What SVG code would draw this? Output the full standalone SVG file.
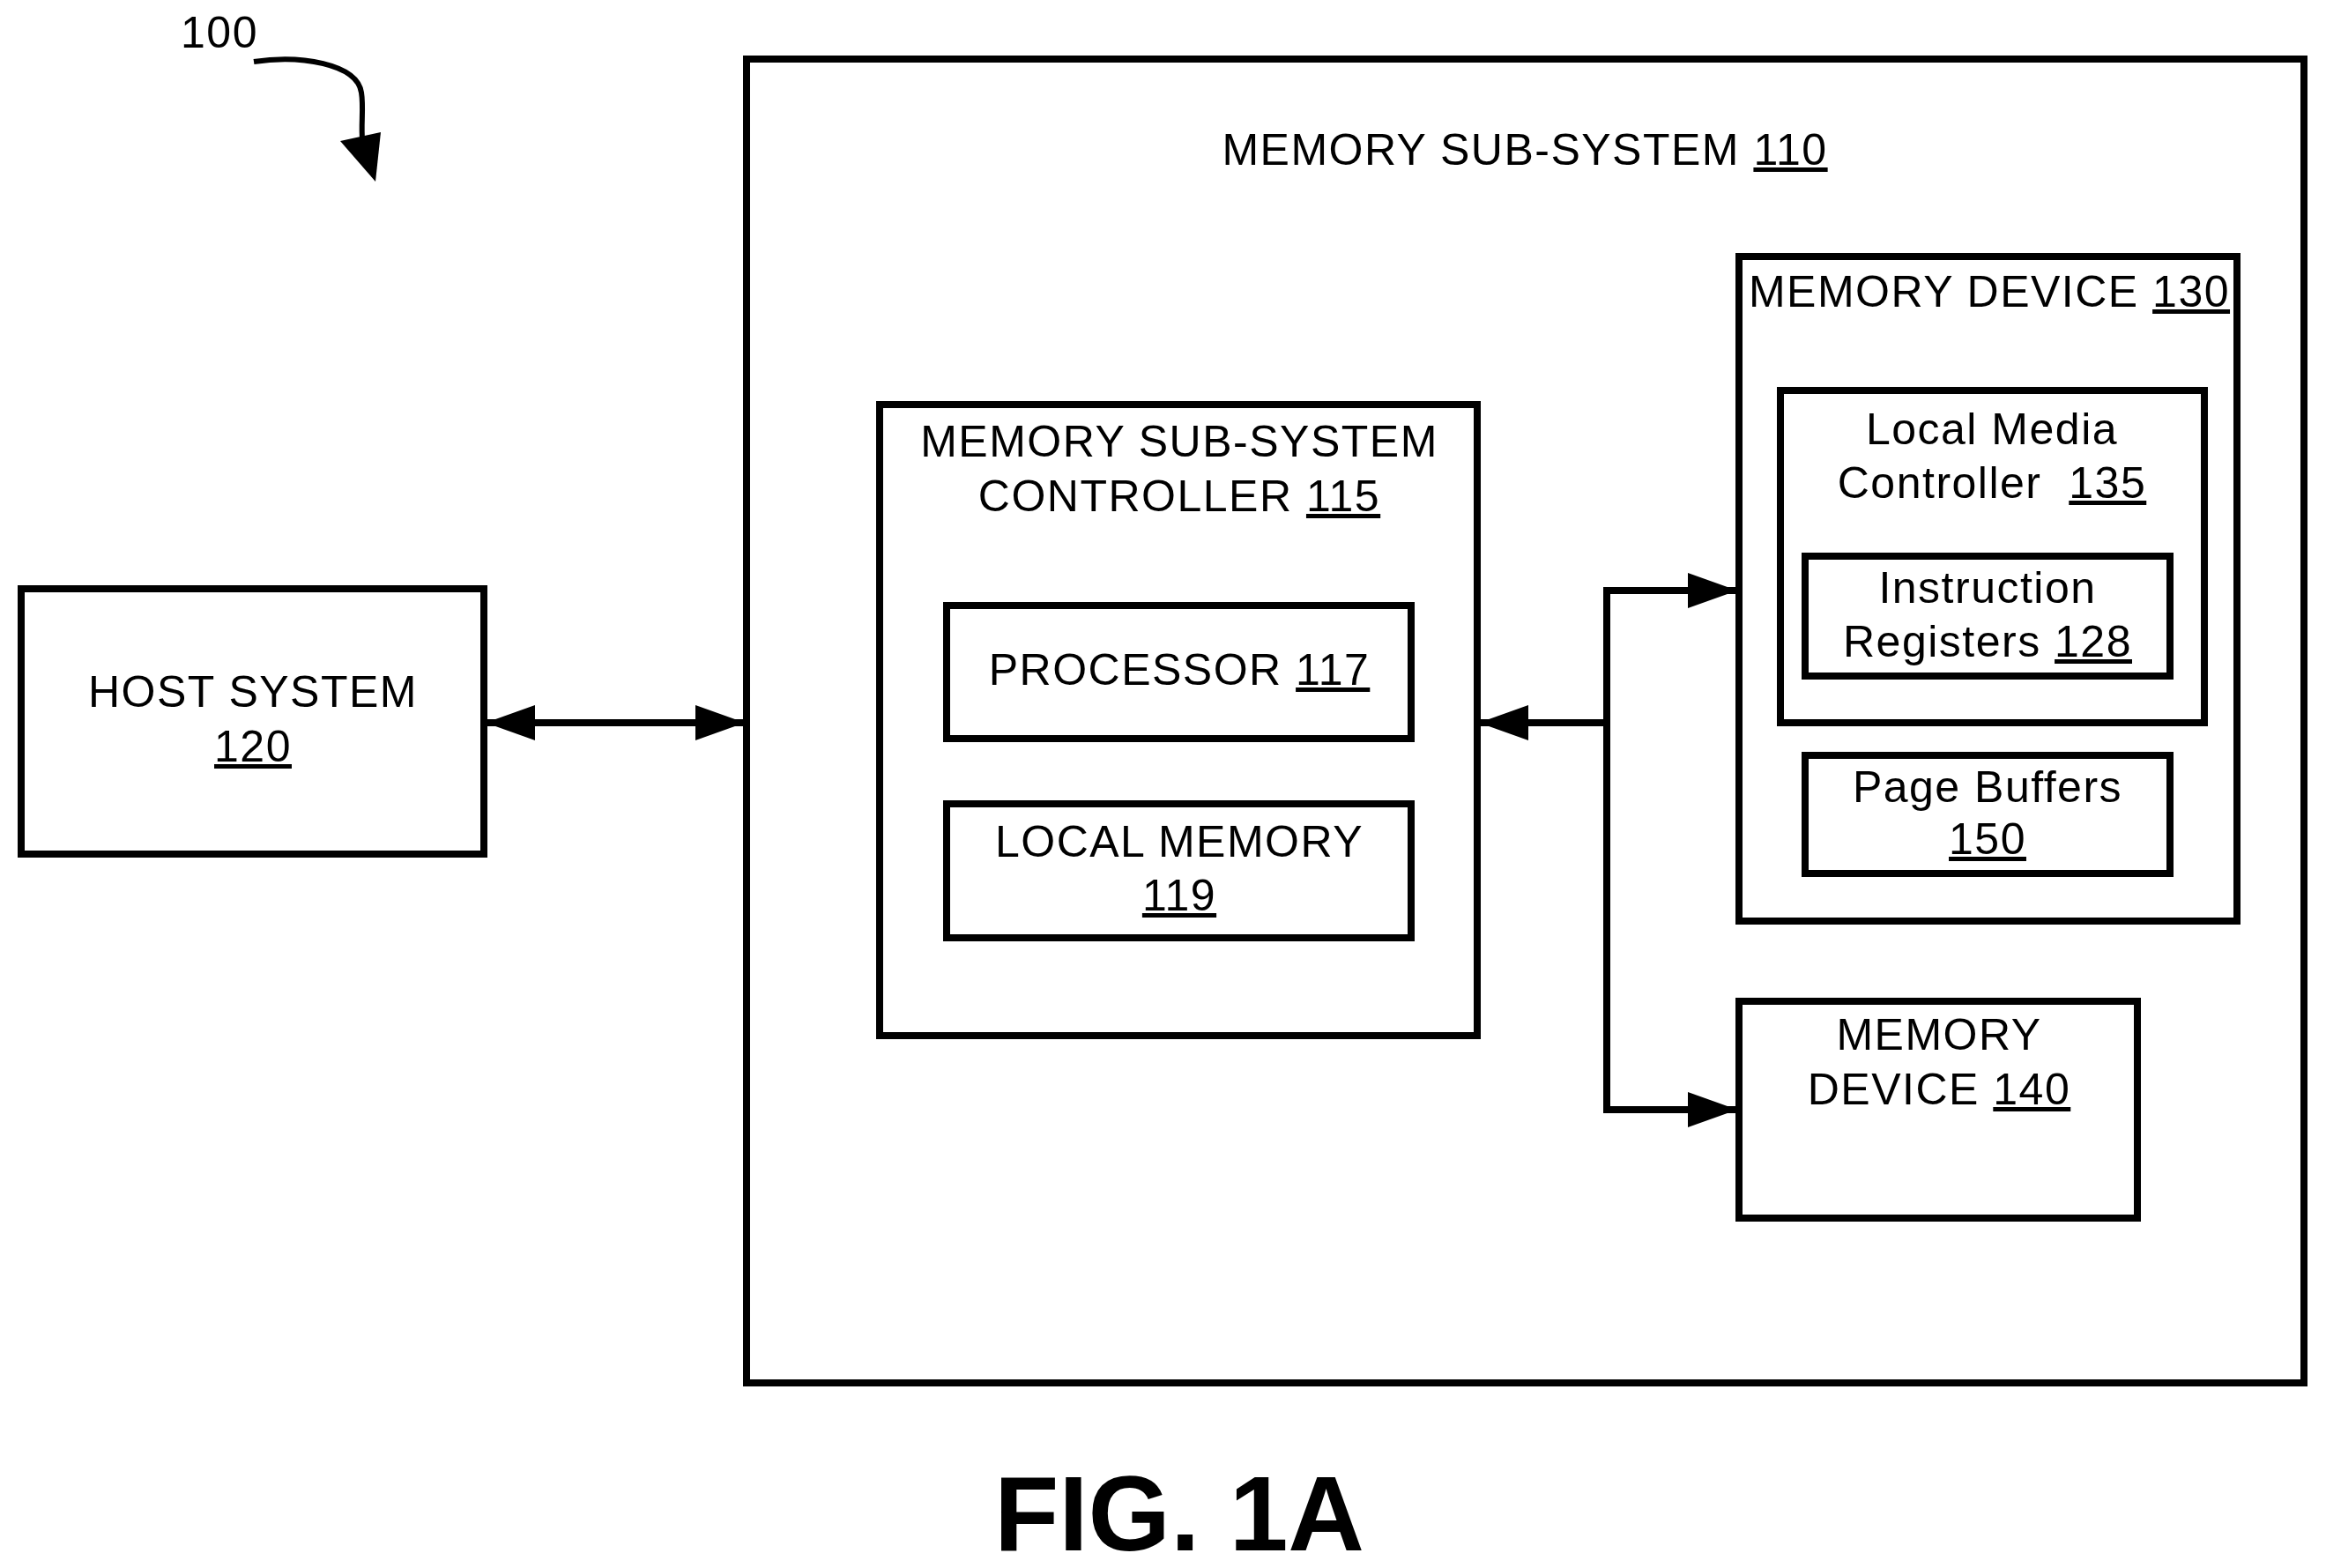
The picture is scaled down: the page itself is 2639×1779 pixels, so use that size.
<svg xmlns="http://www.w3.org/2000/svg" width="2639" height="1779" viewBox="0 0 2639 1779">
<style>
.b{fill:none;stroke:#000;stroke-width:8}
.t{font-family:"Liberation Sans",Arial,sans-serif;font-size:50px;letter-spacing:1.5px;fill:#000;text-anchor:middle}
.u{text-decoration:underline}
.c{fill:none;stroke:#000;stroke-width:8}
</style>
<defs>
<marker id="a" markerUnits="userSpaceOnUse" markerWidth="56" markerHeight="40" refX="54" refY="20" orient="auto-start-reverse" viewBox="0 0 56 40"><path d="M0,0 L56,20 L0,40 Z" fill="#000"/></marker>
</defs>
<rect width="2639" height="1779" fill="#fff"/>
<g id="label100">
<text class="t" x="249" y="54">100</text>
<path d="M288,70 C340,62 405,72 410,105 C414,130 405,160 418,182" fill="none" stroke="#000" stroke-width="6"/>
<path d="M386,160 L426,206 L432,150 Z" fill="#000"/>
</g>
<g id="n110"><rect class="b" x="847" y="67" width="1767" height="1502"/>
<text class="t" x="1730" y="187">MEMORY SUB-SYSTEM <tspan class="u">110</tspan></text></g>
<g id="n120"><rect class="b" x="24" y="668" width="525" height="301"/>
<text class="t" x="287" y="802">HOST SYSTEM</text><text class="t u" x="287" y="864">120</text></g>
<g id="n115"><rect class="b" x="998" y="459" width="678" height="716"/>
<text class="t" x="1338" y="518">MEMORY SUB-SYSTEM</text><text class="t" x="1338" y="580">CONTROLLER <tspan class="u">115</tspan></text></g>
<g id="n117"><rect class="b" x="1074" y="687" width="527" height="151"/>
<text class="t" x="1338" y="777">PROCESSOR <tspan class="u">117</tspan></text></g>
<g id="n119"><rect class="b" x="1074" y="912" width="527" height="152"/>
<text class="t" x="1338" y="972">LOCAL MEMORY</text><text class="t u" x="1338" y="1033">119</text></g>
<g id="n130"><rect class="b" x="1973" y="291" width="565" height="754"/>
<text class="t" x="2257" y="348">MEMORY DEVICE <tspan class="u">130</tspan></text></g>
<g id="n135"><rect class="b" x="2020" y="443" width="481" height="377"/>
<text class="t" x="2260" y="504">Local Media</text><text class="t" x="2260" y="565">Controller&#160; <tspan class="u">135</tspan></text></g>
<g id="n128"><rect class="b" x="2048" y="631" width="414" height="136"/>
<text class="t" x="2255" y="684">Instruction</text><text class="t" x="2255" y="745">Registers <tspan class="u">128</tspan></text></g>
<g id="n150"><rect class="b" x="2048" y="857" width="414" height="134"/>
<text class="t" x="2255" y="910">Page Buffers</text><text class="t u" x="2255" y="969">150</text></g>
<g id="n140"><rect class="b" x="1973" y="1136" width="452" height="246"/>
<text class="t" x="2200" y="1191">MEMORY</text><text class="t" x="2200" y="1253">DEVICE <tspan class="u">140</tspan></text></g>
<g id="connectors">
<line class="c" x1="553" y1="820" x2="843" y2="820" marker-start="url(#a)" marker-end="url(#a)"/>
<line class="c" x1="1823" y1="820" x2="1680" y2="820" marker-end="url(#a)"/>
<polyline class="c" points="1969,670 1823,670 1823,1259 1969,1259" marker-start="url(#a)" marker-end="url(#a)"/>
</g>
<text x="1338" y="1759" font-family="Liberation Sans,Arial,sans-serif" font-size="120" font-weight="bold" text-anchor="middle">FIG. 1A</text>
</svg>
